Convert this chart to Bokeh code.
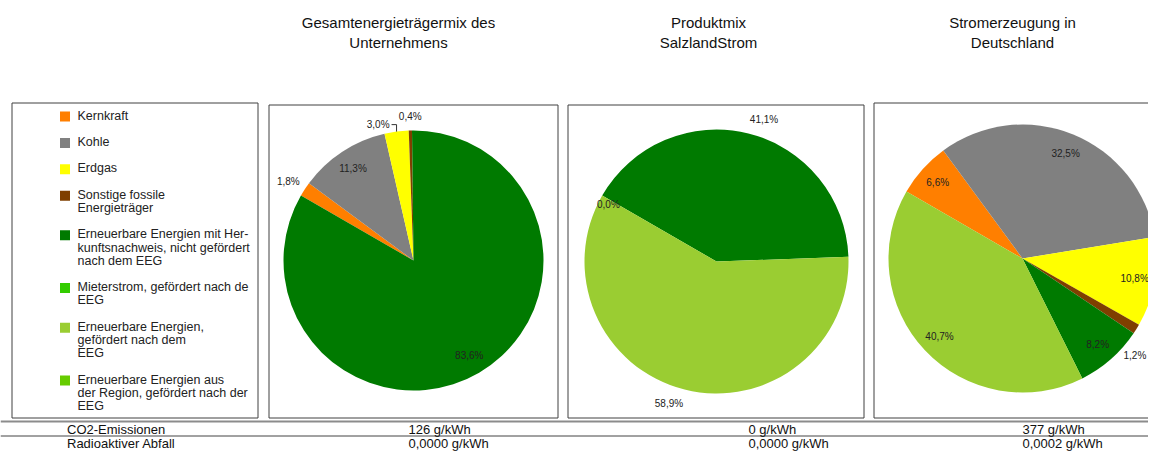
import math
from bokeh.plotting import figure
from bokeh.models import Range1d
from bokeh.core.properties import value
from bokeh.embed import file_html
from bokeh.resources import INLINE

# ---------------- data ----------------
categories = [
    "Kernkraft",
    "Kohle",
    "Erdgas",
    "Sonstige fossile\nEnergieträger",
    "Erneuerbare Energien mit Her-\nkunftsnachweis, nicht gefördert\nnach dem EEG",
    "Mieterstrom, gefördert nach de\nEEG",
    "Erneuerbare Energien,\ngefördert nach dem\nEEG",
    "Erneuerbare Energien aus\nder Region, gefördert nach der\nEEG",
]
chart_titles = [
    "Gesamtenergieträgermix des\nUnternehmens",
    "Produktmix\nSalzlandStrom",
    "Stromerzeugung in\nDeutschland",
]
mix_unternehmen = [1.8, 11.3, 3.0, 0.4, 83.6, 0.0, 0.0, 0.0]
mix_produkt = [0.0, 0.0, 0.0, 0.0, 41.1, 0.0, 58.9, 0.0]
mix_deutschland = [6.6, 32.5, 10.8, 1.2, 8.2, 0.0, 40.7, 0.0]
table_labels = ["CO2-Emissionen", "Radioaktiver Abfall"]
co2_g_kwh = [126, 0, 377]
waste_g_kwh = [0.0000, 0.0000, 0.0002]

# ---------------- styles / layout ----------------
colors = ["#ff7f00", "#808080", "#ffff00", "#7f3f00",
          "#007a00", "#33cc00", "#9acd32", "#66cc00"]
FONT = value("Liberation Sans")
W_CANVAS, H_CANVAS = 1148, 452
H = 468  # image height used for coordinate conversion (y grows downwards)


def Y(py):
    return H - py


def pct(v):
    return f"{v:.1f}".replace(".", ",") + "%"


BOX_BOTTOM = 417.5
pies = [
    dict(values=mix_unternehmen, cx=413, cy=260, r=130,
         box=(268.5, 104.5, 557.5, BOX_BOTTOM), tx=398, outside_all=False, zero_label=False),
    dict(values=mix_produkt, cx=716, cy=261, r=132,
         box=(567.5, 104.5, 863.5, BOX_BOTTOM), tx=708, outside_all=True, zero_label=True),
    dict(values=mix_deutschland, cx=1022, cy=258, r=134,
         box=(873.5, 102.5, 1175, BOX_BOTTOM), tx=1012, outside_all=False, zero_label=False),
]
leader_labels = {(0, 2)}
legend_box = (11.5, 102.5, 257.5, BOX_BOTTOM)

p = figure(width=W_CANVAS, height=H_CANVAS,
           x_range=Range1d(0, W_CANVAS), y_range=Range1d(H - H_CANVAS, H),
           output_backend="svg", toolbar_location=None, min_border=0,
           x_axis_type=None, y_axis_type=None)
p.grid.visible = False
p.outline_line_color = None
p.background_fill_color = "white"
p.border_fill_color = "white"

# boxes
boxes = [legend_box] + [pp["box"] for pp in pies]
p.quad(left=[b[0] for b in boxes], right=[b[2] for b in boxes],
       top=[Y(b[1]) for b in boxes], bottom=[Y(b[3]) for b in boxes],
       fill_color=None, line_color="#404040", line_width=1)

# legend
LINE_STEP = 13.2
lx, ly, ltx, lty, ltxt = [], [], [], [], []
y_cur = 115.0
for cat in categories:
    lines = cat.split("\n")
    lx.append(64.5)
    ly.append(Y(y_cur + 1))
    for k, ln in enumerate(lines):
        ltx.append(77)
        lty.append(Y(y_cur + k * LINE_STEP))
        ltxt.append(ln)
    y_cur += LINE_STEP * (len(lines) + 1)
p.rect(x=lx, y=ly, width=10, height=10, fill_color=colors, line_color=None)
p.text(x=ltx, y=lty, text=ltxt, text_font=FONT, text_font_size="12.5px",
       text_color="#222222", text_align="left", text_baseline="middle")

# titles
tx, ty, tt = [], [], []
for pp, title in zip(pies, chart_titles):
    for k, ln in enumerate(title.split("\n")):
        tx.append(pp["tx"])
        ty.append(Y(22 + k * 19.5))
        tt.append(ln)
p.text(x=tx, y=ty, text=tt, text_font=FONT, text_font_size="15px",
       text_color="#111111", text_align="center", text_baseline="middle")

# pies
lab_x, lab_y, lab_t, lab_a = [], [], [], []
lead_x, lead_y = [], []
RIGHT_LIMIT = W_CANVAS - 2
for pi, pp in enumerate(pies):
    vals = pp["values"]
    tot = sum(vals)
    cx, cy, r = pp["cx"], Y(pp["cy"]), pp["r"]
    start = math.radians(150)
    ws, we, wc = [], [], []
    zero_done = False
    for i, v in enumerate(vals):
        span = 2 * math.pi * v / tot
        a0, a1 = start, start - span
        mid = (a0 + a1) / 2
        if v > 0:
            ws.append(a1)
            we.append(a0)
            wc.append(colors[i])
            c, s = math.cos(mid), math.sin(mid)
            if (pi, i) in leader_labels:
                ex, ey = cx + r * c, cy + r * s
                lead_x.append([ex, ex, ex - 5])
                lead_y.append([ey, ey + 7, ey + 7])
                lab_x.append(ex - 7)
                lab_y.append(ey + 7)
                lab_t.append(pct(v))
                lab_a.append("right")
            elif pp["outside_all"] or v < 5:
                x = cx + (r + 6) * c
                y = cy + (r + 14) * s
                align = "center" if abs(c) < 0.1 else ("left" if c > 0 else "right")
                wtxt = 23.0
                if align == "left" and x + wtxt > RIGHT_LIMIT:
                    # keep the label inside the canvas: slide it along the rim
                    x = RIGHT_LIMIT - wtxt
                    dx = x - cx
                    y = cy - math.sqrt(max(r * r - dx * dx, 0)) - 9
                lab_x.append(x)
                lab_y.append(y)
                lab_t.append(pct(v))
                lab_a.append(align)
            else:
                lab_x.append(cx + 0.85 * r * c)
                lab_y.append(cy + 0.85 * r * s)
                lab_t.append(pct(v))
                lab_a.append("center")
        elif pp["zero_label"] and not zero_done:
            zero_done = True
            c, s = math.cos(a0), math.sin(a0)
            lab_x.append(cx + (r + 6) * c)
            lab_y.append(cy + (r + 6) * s - 12)
            lab_t.append(pct(v))
            lab_a.append("left")
        start = a1
    p.wedge(x=cx, y=cy, radius=r, start_angle=ws, end_angle=we,
            direction="anticlock", fill_color=wc, line_color=None)

p.multi_line(xs=lead_x, ys=lead_y, line_color="#333333", line_width=1)
p.text(x=lab_x, y=lab_y, text=lab_t, text_align=lab_a, text_font=FONT,
       text_font_size="10px", text_color="#222222", text_baseline="middle")

# table
p.segment(x0=[0], x1=[W_CANVAS], y0=[Y(421)], y1=[Y(421)], line_color="#8c8c8c", line_width=2)
p.segment(x0=[0], x1=[W_CANVAS], y0=[Y(435.5)], y1=[Y(435.5)], line_color="#444444", line_width=1)
col_x = [408, 748, 1022]
row_y = [428.5, 443]
tbx, tby, tbt = [66.5, 66.5], [Y(row_y[0]), Y(row_y[1])], list(table_labels)
for j in range(3):
    tbx += [col_x[j], col_x[j]]
    tby += [Y(row_y[0]), Y(row_y[1])]
    tbt += [f"{co2_g_kwh[j]} g/kWh", f"{waste_g_kwh[j]:.4f}".replace(".", ",") + " g/kWh"]
p.text(x=tbx, y=tby, text=tbt, text_font=FONT, text_font_size="13px",
       text_color="#111111", text_align="left", text_baseline="middle")

open("out.html", "w").write(file_html(p, INLINE))
